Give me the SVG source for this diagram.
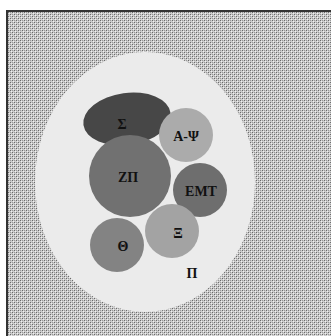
<svg xmlns="http://www.w3.org/2000/svg" width="331" height="336" viewBox="0 0 331 336">
<defs>
<pattern id="dots" x="0" y="0" width="4" height="4" patternUnits="userSpaceOnUse">
<rect width="4" height="4" fill="#cccccc"/>
<rect x="0" y="0" width="1" height="1" fill="#6a6a6a"/>
<rect x="2" y="2" width="1" height="1" fill="#6a6a6a"/>
<rect x="2" y="0" width="1" height="1" fill="#9a9a9a"/>
<rect x="0" y="2" width="1" height="1" fill="#9a9a9a"/>
<rect x="1" y="1" width="1" height="1" fill="#f0f0f0"/>
<rect x="3" y="3" width="1" height="1" fill="#f0f0f0"/>
</pattern>
<style>
.lbl{font-family:"Liberation Serif","Times New Roman",serif;font-weight:bold;font-size:14px;fill:#111;text-anchor:middle;dominant-baseline:central}
</style>
</defs>
<rect width="331" height="336" fill="#fff"/>
<g id="frame">
<rect x="7" y="11" width="340" height="340" fill="url(#dots)" stroke="#333" stroke-width="2"/>
</g>
<g id="P">
<ellipse cx="145" cy="182" rx="110" ry="130" fill="#ebebeb"/>
<text class="lbl" x="192" y="273">Π</text>
</g>
<g id="S">
<ellipse cx="127" cy="119" rx="44" ry="26" transform="rotate(-8 127 119)" fill="#474747"/>
<text class="lbl" x="122" y="124">Σ</text>
</g>
<g id="APsi">
<circle cx="186" cy="135" r="27" fill="#ababab"/>
<text class="lbl" x="186" y="136">Α-Ψ</text>
</g>
<g id="EMT">
<circle cx="200" cy="190" r="27" fill="#6e6e6e"/>
<text class="lbl" x="201" y="191">ΕΜΤ</text>
</g>
<g id="ZP">
<circle cx="130" cy="176" r="41" fill="#717171"/>
<text class="lbl" x="128" y="177">ΖΠ</text>
</g>
<g id="Xi">
<circle cx="172" cy="231" r="27" fill="#a3a3a3"/>
<text class="lbl" x="178" y="233">Ξ</text>
</g>
<g id="Theta">
<circle cx="117" cy="245" r="27" fill="#838383"/>
<text class="lbl" x="123" y="246">Θ</text>
</g>
<g id="connectors"/>
</svg>
